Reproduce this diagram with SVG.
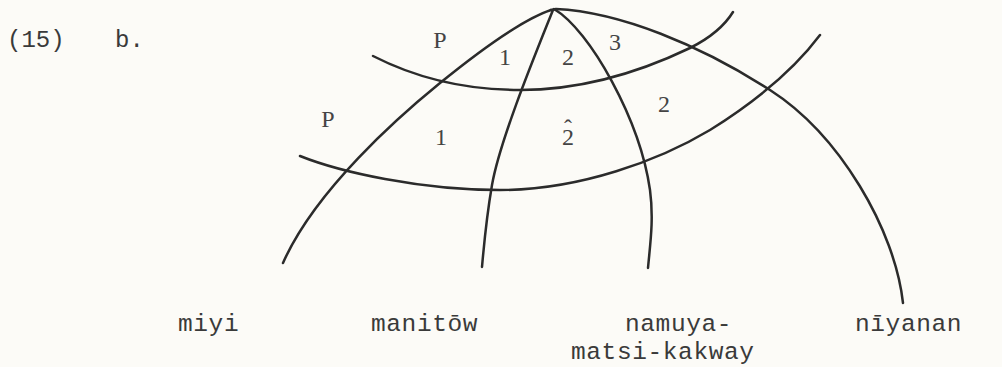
<svg xmlns="http://www.w3.org/2000/svg" width="1002" height="367" viewBox="0 0 1002 367">
<style>
.bg{fill:#fcfbf7}
.ln{fill:none;stroke:#2b2b2b;stroke-width:2.5;stroke-linecap:round;stroke-linejoin:round}
.mono{font-family:"Liberation Mono","Courier New",monospace;fill:#3a3a3a}
.lab{font-family:"Liberation Serif","Times New Roman",serif;font-size:24px;fill:#444;text-anchor:middle}
</style>
<rect class="bg" x="0" y="0" width="1002" height="367"/>
<g id="example-number">
<text class="mono" x="7" y="47" font-size="24">(15)</text>
<text class="mono" x="115" y="47" font-size="24">b.</text>
</g>
<g id="connectors">
<path id="arc-miyi" class="ln" d="M551,10 Q515,22 440,83 C400,115.5 315,190 283,263"/>
<path id="arc-manitow" class="ln" d="M553,10 C535,55 500,140 492,185 C486,220 484,245 482,267"/>
<path id="arc-namuya" class="ln" d="M554,9 C590,30 640,120 650,190 C654,220 650,245 648,268"/>
<path id="arc-niyanan" class="ln" d="M551,10 L556,9 C620,12 700,45 770,90 C840,135 895,230 903,303"/>
<path id="arc-upper" class="ln" d="M373,56 C420,80 470,90 520,90 C580,90 640,72 690,48 C710,38 725,25 733,12"/>
<path id="arc-lower" class="ln" d="M300,156 C340,172 420,190 500,190 C580,190 660,160 710,130 C750,105 790,75 820,35"/>
</g>
<g id="region-labels">
<text class="lab" x="440" y="48">P</text>
<text class="lab" x="328" y="127">P</text>
<text class="lab" x="505" y="65">1</text>
<text class="lab" x="568" y="65">2</text>
<text class="lab" x="615" y="50">3</text>
<text class="lab" x="664" y="112">2</text>
<text class="lab" x="441" y="145">1</text>
<text class="lab"><tspan x="568" y="136">ˆ</tspan><tspan x="568" y="145">2</tspan></text>
</g>
<g id="node-miyi"><text class="mono" x="178" y="331" font-size="24.5" letter-spacing="0.6">miyi</text></g>
<g id="node-manitow"><text class="mono" x="371" y="331" font-size="24.5" letter-spacing="0.6">manitōw</text></g>
<g id="node-namuya"><text class="mono" x="625" y="331" font-size="24.5" letter-spacing="0.6">namuya-</text>
<text class="mono" x="571" y="359" font-size="24.5" letter-spacing="0.6">matsi-kakway</text></g>
<g id="node-niyanan"><text class="mono" x="855" y="331" font-size="24.5" letter-spacing="0.6">nīyanan</text></g>
</svg>
